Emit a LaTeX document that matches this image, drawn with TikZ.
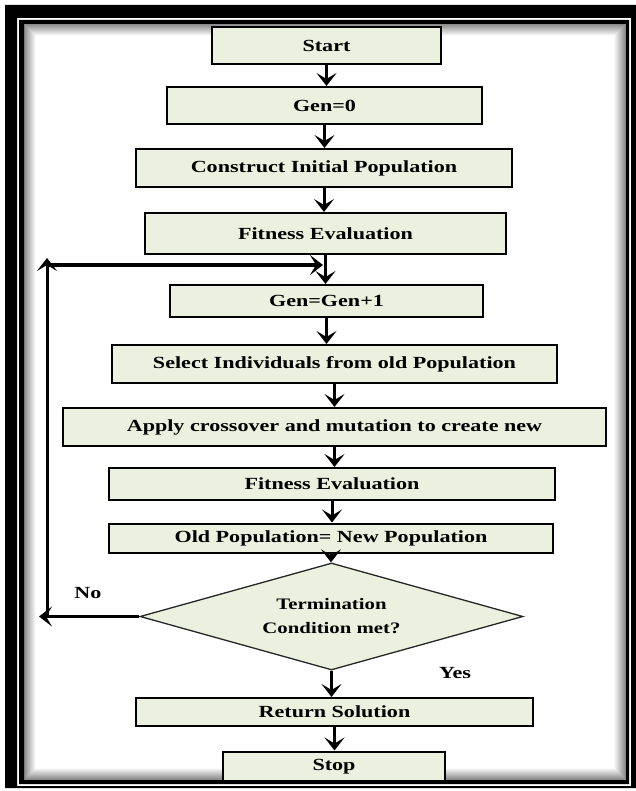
\documentclass[tikz,border=0pt]{standalone}
\usepackage{fontspec}
\newfontfamily\flowfont[FakeStretch=1.3]{Liberation Serif Bold}
\usepackage{tikz}
\usetikzlibrary{calc}
\usetikzlibrary{arrows.meta}
\usetikzlibrary{shapes.geometric}
\usetikzlibrary{positioning}
\definecolor{boxgreen}{RGB}{235,241,222}
\tikzset{stepbox/.style={draw, line width=2pt, fill=boxgreen, inner sep=0pt, font=\flowfont\fontsize{17}{20}\selectfont}}
\tikzset{choicebox/.style={diamond, aspect=3.6, draw=black!85, line width=1.3pt, fill=boxgreen, inner sep=0pt, align=center, font=\flowfont\fontsize{16}{24}\selectfont}}
\tikzset{plainlabel/.style={font=\flowfont\fontsize{17}{20}\selectfont}}

\begin{document}
\begin{tikzpicture}[x=1pt, y=-1pt]
\tikzstyle{flowarrow} = [line width=3pt, -{Stealth[length=13pt,width=20pt,inset=6pt]}]
\useasboundingbox (0,0) rectangle (636,791);
\fill[white] (0,0) rectangle (636,791);
% soft shadow inside the frame
\foreach \i in {1,...,12}{
  \pgfmathtruncatemacro{\shadelevel}{50-4*\i}
  \draw[black!\shadelevel, line width=1pt] (24+\i-0.5,24+\i-0.5) rectangle (626-\i+0.5,780-\i+0.5);
}

\node[stepbox, minimum width=229pt, minimum height=37pt] (start) at (326.5,45.5) {Start};
\node[stepbox, minimum width=315pt, minimum height=37pt] (gen0) at (324.5,105.5) {Gen=0};
\node[stepbox, minimum width=376pt, minimum height=38pt] (construct) at (324,168) {Construct Initial Population};
\node[stepbox, minimum width=361pt, minimum height=41pt] (fitA) at (325.5,233.5) {Fitness Evaluation};
\node[stepbox, minimum width=313pt, minimum height=32pt] (genInc) at (326.5,301) {Gen=Gen+1};
\node[stepbox, minimum width=445pt, minimum height=38pt] (select) at (334.5,364) {Select Individuals from old Population};
\node[stepbox, minimum width=543pt, minimum height=38pt] (apply) at (334.5,427) {Apply crossover and mutation to create new};
\node[stepbox, minimum width=446pt, minimum height=32pt] (fitB) at (332,484) {Fitness Evaluation};
\node[stepbox, minimum width=444pt, minimum height=29pt] (oldpop) at (331,538) {Old Population= New Population};
\node[choicebox, minimum width=383pt, minimum height=107pt] (dec) at (331.5,616.5) {Termination\\Condition met?};
\node[stepbox, minimum width=397pt, minimum height=28pt] (ret) at (334.5,712) {Return Solution};
\node[stepbox, minimum width=222pt, minimum height=31pt] (stop) at (334,767) {Stop};

\node[plainlabel] (nolabel) at (88,593) {No};
\node[plainlabel] (yeslabel) at (455,673) {Yes};

\draw[flowarrow] (start.south) -- (start.south |- gen0.north);
\draw[flowarrow] (gen0.south) -- (gen0.south |- construct.north);
\draw[flowarrow] (construct.south) -- (construct.south |- fitA.north);
\draw[flowarrow] (fitA.south) -- (fitA.south |- genInc.north);
\draw[flowarrow] (genInc.south) -- (genInc.south |- select.north);
\draw[flowarrow] (select.south) -- (select.south |- apply.north);
\draw[flowarrow] (apply.south) -- (apply.south |- fitB.north);
\draw[flowarrow] (fitB.south) -- (fitB.south |- oldpop.north);
\draw[flowarrow] (oldpop.south) -- (oldpop.south |- dec.north);
\draw[flowarrow] (dec.south) -- (dec.south |- ret.north);
\draw[flowarrow] (ret.south) -- (ret.south |- stop.north);

% loop back when the condition is not met
\coordinate (noTip) at (39,616.5);
\coordinate (loopBottom) at (47,616.5);
\coordinate (loopTop) at (47,258);
\coordinate (loopLeft) at (47,265);
\coordinate (loopRight) at (323,265);
\draw[flowarrow] (dec.west) -- (noTip);
\draw[flowarrow] (loopBottom) -- (loopTop);
\draw[flowarrow] (loopLeft) -- (loopRight);

% double frame
\fill[black, even odd rule] (5,5) rectangle (636,788) (17,18) rectangle (631,786);
\fill[black, even odd rule] (19,20) rectangle (629,784) (24,24) rectangle (626,780);
\end{tikzpicture}
\end{document}
